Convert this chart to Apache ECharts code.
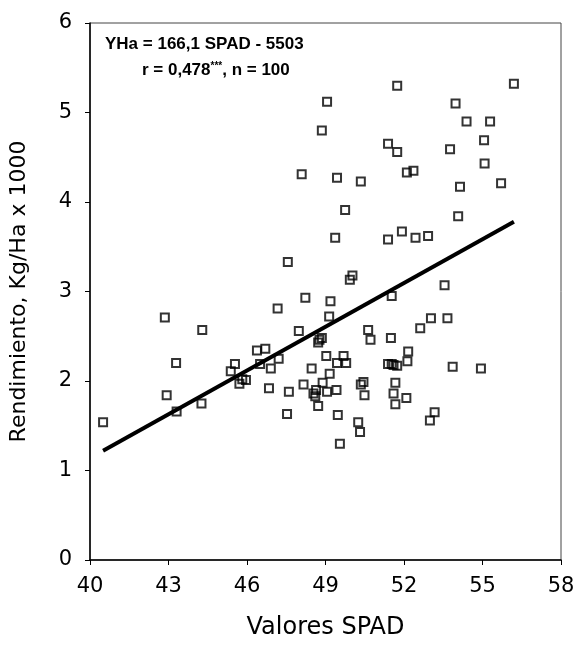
<!DOCTYPE html>
<html>
<head>
<meta charset="utf-8">
<script src="https://cdn.jsdelivr.net/npm/echarts@6/dist/echarts.min.js"></script>
<style>
  html, body { margin: 0; padding: 0; background: #fff; }
  #chart { width: 580px; height: 645px; }
</style>
</head>
<body>
<div id="chart"></div>
<script>
// Data
const spad = [
  40.5, 42.86, 42.93, 43.29, 43.31, 44.29, 44.26, 45.38, 45.54, 45.71,
  45.82, 45.96, 46.38, 46.70, 46.50, 46.91, 47.21, 46.84, 47.17, 47.56,
  47.60, 47.53, 47.98, 48.09, 48.23, 48.16, 48.47, 48.54, 48.61, 48.72,
  48.77, 48.86, 48.72, 48.86, 49.06, 48.89, 49.06, 49.03, 49.14, 49.19,
  49.16, 49.37, 49.44, 49.42, 49.47, 49.55, 49.44, 49.69, 49.79, 49.75,
  49.93, 50.03, 50.35, 50.25, 50.32, 50.35, 50.45, 50.49, 50.63, 50.72,
  51.39, 51.39, 51.53, 51.50, 51.39, 51.60, 51.74, 51.60, 51.67, 51.67,
  51.74, 51.74, 51.92, 52.11, 52.36, 52.09, 52.13, 52.16, 52.44, 52.62,
  52.92, 53.03, 52.99, 53.17, 53.55, 53.66, 53.76, 53.86, 53.97, 54.07,
  54.14, 54.39, 54.94, 55.06, 55.08, 55.29, 55.71, 56.20, 48.64, 51.53
];
const rendimiento = [
  1.54, 2.71, 1.84, 2.20, 1.66, 2.57, 1.75, 2.11, 2.19, 1.97,
  2.02, 2.01, 2.34, 2.36, 2.19, 2.14, 2.25, 1.92, 2.81, 3.33,
  1.88, 1.63, 2.56, 4.31, 2.93, 1.96, 2.14, 1.86, 1.83, 1.72,
  2.46, 2.48, 2.43, 4.80, 5.12, 1.98, 1.88, 2.28, 2.72, 2.89,
  2.08, 3.60, 4.27, 1.90, 1.62, 1.30, 2.20, 2.28, 2.20, 3.91,
  3.13, 3.18, 4.23, 1.54, 1.43, 1.96, 1.99, 1.84, 2.57, 2.46,
  4.65, 3.58, 2.95, 2.48, 2.19, 2.18, 2.17, 1.86, 1.98, 1.74,
  5.30, 4.56, 3.67, 4.33, 4.35, 1.81, 2.22, 2.33, 3.60, 2.59,
  3.62, 2.70, 1.56, 1.65, 3.07, 2.70, 4.59, 2.16, 5.10, 3.84,
  4.17, 4.90, 2.14, 4.69, 4.43, 4.90, 4.21, 5.32, 1.90, 2.19
];
// Regression line endpoints (YHa = 166,1 SPAD - 5503, in thousands)
const fitX = [40.5, 56.2];
const fitY = [1.22, 3.78];

const xTicks = { min: 40, max: 58, interval: 3 };
const yTicks = { min: 0, max: 6, interval: 1 };

const eqLine1 = 'YHa = 166,1 SPAD - 5503';
const eqLine2 = 'r = 0,478{sup|***}, n = 100';

const points = spad.map((x, i) => [x, rendimiento[i]]);
const fitLine = fitX.map((x, i) => [x, fitY[i]]);

const chart = echarts.init(document.getElementById('chart'), null, { renderer: 'canvas' });
const axisFont = 'DejaVu Sans';
chart.setOption({
  animation: false,
  backgroundColor: '#fff',
  grid: {
    left: 84, right: 19, top: 23, bottom: 83,
    show: true, borderColor: '#444', borderWidth: 1, backgroundColor: 'transparent'
  },
  xAxis: {
    type: 'value',
    min: xTicks.min, max: xTicks.max, interval: xTicks.interval,
    name: 'Valores SPAD',
    nameLocation: 'middle',
    nameGap: 56,
    nameTextStyle: { fontFamily: axisFont, fontSize: 24, color: '#000' },
    axisLine: { show: true, onZero: false, lineStyle: { color: '#000', width: 1.5 } },
    axisTick: { show: true, inside: false, length: 5, lineStyle: { color: '#000' } },
    axisLabel: { fontFamily: axisFont, fontSize: 21, color: '#000', margin: 16 },
    splitLine: { show: false }
  },
  yAxis: {
    type: 'value',
    min: yTicks.min, max: yTicks.max, interval: yTicks.interval,
    name: 'Rendimiento, Kg/Ha x 1000',
    nameLocation: 'middle',
    nameGap: 60,
    nameTextStyle: { fontFamily: axisFont, fontSize: 22, color: '#000' },
    axisLine: { show: true, onZero: false, lineStyle: { color: '#000', width: 1.5 } },
    axisTick: { show: true, inside: false, length: 5, lineStyle: { color: '#000' } },
    axisLabel: { fontFamily: axisFont, fontSize: 21, color: '#000', margin: 18 },
    splitLine: { show: false }
  },
  graphic: [
    {
      type: 'text', left: 105, top: 36,
      style: {
        text: eqLine1, fill: '#000',
        font: 'bold 17px "Liberation Sans", Arial, sans-serif'
      }
    },
    {
      type: 'text', left: 142, top: 61,
      style: {
        text: eqLine2, fill: '#000',
        font: 'bold 17px "Liberation Sans", Arial, sans-serif',
        rich: {
          sup: { fontSize: 10, fontWeight: 'bold', fontFamily: 'Liberation Sans', verticalAlign: 'top', padding: [0, 0, 8, 0] }
        }
      }
    }
  ],
  series: [
    {
      type: 'line',
      data: fitLine,
      showSymbol: false,
      symbol: 'none',
      lineStyle: { color: '#000', width: 4 },
      z: 3
    },
    {
      type: 'scatter',
      data: points,
      symbol: 'rect',
      symbolSize: 8,
      itemStyle: { color: 'rgba(0,0,0,0)', borderColor: '#000', borderWidth: 2 },
      z: 4
    }
  ]
});
</script>
</body>
</html>
